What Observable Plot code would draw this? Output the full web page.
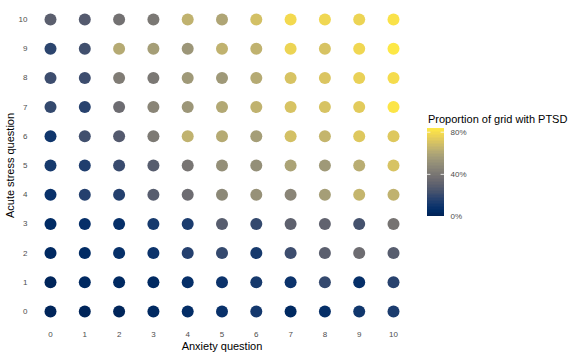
<!DOCTYPE html>
<html>
<head>
<meta charset="utf-8">
<script src="https://cdn.jsdelivr.net/npm/d3@7"></script>
<script src="https://cdn.jsdelivr.net/npm/@observablehq/plot@0.6"></script>
<style>
  html, body { margin: 0; padding: 0; background: #fff; }
  #wrap { position: relative; width: 577px; height: 357px; font-family: "Liberation Sans", Arial, sans-serif; }
  #main, #legend { position: absolute; top: 0; }
  #main { left: 0; }
  #legend { left: 420px; }
  #ltitle { position: absolute; left: 428px; top: 113px; font-size: 11px; color: #000; white-space: nowrap; }
</style>
</head>
<body>
<div id="wrap">
  <div id="main"></div>
  <div id="legend"></div>
  <div id="ltitle">Proportion of grid with PTSD</div>
</div>
<script>
// Anxiety question score (x) and Acute stress question score (y)
const anxietyScores = [0, 1, 2, 3, 4, 5, 6, 7, 8, 9, 10];
const stressScores  = [0, 1, 2, 3, 4, 5, 6, 7, 8, 9, 10];

// Proportion of grid with PTSD, one array per acute stress score (values across anxiety 0..10)
const stress0  = [0.02, 0.02, 0.02, 0.04, 0.06, 0.08, 0.11, 0.04, 0.07, 0.10, 0.13];
const stress1  = [0.02, 0.04, 0.04, 0.04, 0.07, 0.09, 0.12, 0.09, 0.19, 0.07, 0.16];
const stress2  = [0.04, 0.05, 0.07, 0.09, 0.15, 0.19, 0.12, 0.21, 0.29, 0.35, 0.28];
const stress3  = [0.05, 0.07, 0.07, 0.12, 0.13, 0.28, 0.19, 0.30, 0.31, 0.23, 0.38];
const stress4  = [0.08, 0.15, 0.15, 0.28, 0.35, 0.47, 0.51, 0.46, 0.56, 0.65, 0.64];
const stress5  = [0.12, 0.14, 0.20, 0.28, 0.39, 0.50, 0.50, 0.58, 0.54, 0.62, 0.70];
const stress6  = [0.10, 0.22, 0.27, 0.41, 0.64, 0.61, 0.56, 0.69, 0.65, 0.72, 0.72];
const stress7  = [0.19, 0.16, 0.35, 0.46, 0.53, 0.60, 0.64, 0.70, 0.70, 0.73, 0.82];
const stress8  = [0.21, 0.21, 0.42, 0.40, 0.54, 0.54, 0.61, 0.70, 0.71, 0.75, 0.79];
const stress9  = [0.17, 0.22, 0.61, 0.56, 0.53, 0.64, 0.64, 0.76, 0.70, 0.77, 0.83];
const stress10 = [0.29, 0.27, 0.37, 0.40, 0.64, 0.59, 0.69, 0.78, 0.77, 0.76, 0.81];

const legendTicks = [0, 0.4, 0.8];
const colorMax = 0.835;

const byStress = [stress0, stress1, stress2, stress3, stress4, stress5, stress6, stress7, stress8, stress9, stress10];
const data = [];
stressScores.forEach((s, i) => anxietyScores.forEach((a, j) => data.push({anxiety: a, stress: s, p: byStress[i][j]})));

const colorOpts = {type: "linear", scheme: "cividis", domain: [0, colorMax]};

const main = Plot.plot({
  width: 420,
  height: 357,
  marginLeft: 0, marginRight: 0, marginTop: 0, marginBottom: 0,
  style: {fontFamily: "Liberation Sans, Arial, sans-serif", background: "#fff"},
  x: {domain: [0, 10], range: [50, 393], axis: null},
  y: {domain: [0, 10], range: [311, 19], axis: null},
  color: colorOpts,
  marks: [
    Plot.text(anxietyScores, {x: d => d, y: 0, dy: 23, text: d => String(d), fontSize: 8, fill: "#4d4d4d"}),
    Plot.text(stressScores, {x: 0, y: d => d, dx: -23, textAnchor: "end", text: d => String(d), fontSize: 8, fill: "#4d4d4d"}),
    Plot.dot(data, {x: "anxiety", y: "stress", r: 6, fill: "p", stroke: null}),
    Plot.text(["Anxiety question"], {x: 5, y: 0, dy: 35, text: d => d, fontSize: 11, fill: "#000"}),
    Plot.text(["Acute stress question"], {x: 0, y: 5, dx: -40, rotate: -90, text: d => d, fontSize: 11, fill: "#000"})
  ]
});
document.getElementById("main").appendChild(main);

// legend gradient slices
const steps = d3.range(60).map(i => ({y1: i / 60 * colorMax, y2: (i + 1) / 60 * colorMax, v: (i + 0.5) / 60 * colorMax}));
const legend = Plot.plot({
  width: 157,
  height: 357,
  marginLeft: 0, marginRight: 0, marginTop: 0, marginBottom: 0,
  style: {fontFamily: "Liberation Sans, Arial, sans-serif", background: "transparent"},
  x: {domain: [0, 1], range: [7, 24], axis: null},
  y: {domain: [0, colorMax], range: [216, 128], axis: null},
  color: colorOpts,
  marks: [
    Plot.rect(steps, {x1: 0, x2: 1, y1: "y1", y2: "y2", fill: "v", inset: 0, shapeRendering: "crispEdges"}),
    Plot.ruleY(legendTicks, {x1: 0, x2: 0.2, stroke: "white", strokeWidth: 0.8}),
    Plot.ruleY(legendTicks, {x1: 0.8, x2: 1, stroke: "white", strokeWidth: 0.8}),
    Plot.text(legendTicks, {x: 1, y: d => d, dx: 6, textAnchor: "start", text: d => Math.round(d * 100) + "%", fontSize: 8, fill: "#4d4d4d"})
  ]
});
document.getElementById("legend").appendChild(legend);
</script>
</body>
</html>
